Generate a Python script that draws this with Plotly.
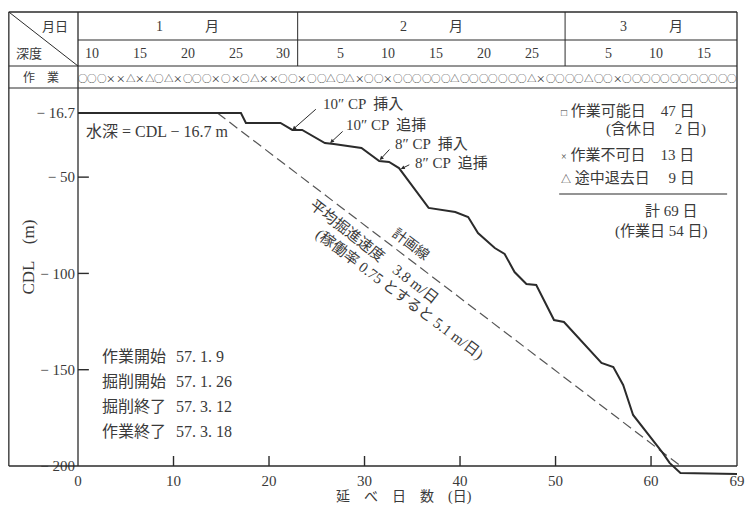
import plotly.graph_objects as go

# ---------------- data ----------------
elapsed_days = [0, 17.06, 17.58, 21.2, 22.44, 23.47, 25.85, 26.78, 29.68, 31.54, 32.57,
                33.61, 36.71, 38.26, 39.5, 40.85, 41.88, 43.64, 44.67, 45.71, 46.95,
                47.98, 49.84, 50.88, 54.81, 56.05, 57.08, 58.12, 60.19, 61.22, 61.94,
                63.08, 69]
depth_cdl = [-16.7, -16.7, -21.9, -21.9, -25.5, -25.5, -32.3, -32.8, -34.9, -41.6, -42.1,
             -45.3, -66.0, -67.1, -68.1, -70.7, -79.0, -86.8, -89.9, -99.3, -105.5,
             -106.0, -124.2, -125.2, -146.5, -148.6, -157.9, -173.5, -186.5, -193.2, -198.4,
             -203.6, -204.1]
plan_days = [14.6, 63.1]
plan_depth = [-16.7, -200.0]

x_tick_vals = [0, 10, 20, 30, 40, 50, 60, 69]
x_tick_text = ["0", "10", "20", "30", "40", "50", "60", "69"]
y_tick_vals = [-16.7, -50, -100, -150, -200]
y_tick_text = ["− 16.7", "− 50", "− 100", "− 150", "− 200"]

month_names = ["1　　　月", "2　　　月", "3　　　月"]
month_start_index = [0, 23, 51]
month_end_index = [23, 51, 69]
month_first_day = [9, 1, 1]
month_day_labels = [[10, 15, 20, 25, 30], [5, 10, 15, 20, 25], [5, 10, 15]]

work_status = list("○○○××△×△○△×○○○×○×○△××○○×○○△○△×○"
                   "○×○○○○○○△○○○○○○○△×○○○○△○○×○○○○○○○○○○○○")

cp_notes = ["10″ CP  挿入", "10″ CP  追挿", "8″ CP  挿入", "8″ CP  追挿"]
cp_days = [22.44, 26.4, 31.6, 33.8]
cp_depth = [-25.5, -32.3, -41.1, -45.8]

summary_symbols = ["□", "", "×", "△", "", ""]
summary_lines = [" 作業可能日　47 日", "(含休日　 2 日)", " 作業不可日　13 日",
                 " 途中退去日　 9 日", "計 69 日", "(作業日 54 日)"]
date_labels = ["作業開始", "掘削開始", "掘削終了", "作業終了"]
date_values = ["57. 1. 9", "57. 1. 26", "57. 3. 12", "57. 3. 18"]

# ---------------- layout helpers ----------------
W, H = 750, 511
L, R, T, B = 78, 5, 88, 31
PW, PH = W - L - R, H - T - B


def px(xp):
    return (xp - L) / PW


def py(yp):
    return (H - B - yp) / PH


SERIF = "Liberation Serif, Noto Sans CJK JP, serif"
TXT = "#3a3a3a"
LN = "#2b2b2b"

fig = go.Figure()
fig.add_trace(go.Scatter(x=plan_days, y=plan_depth, mode="lines",
                         line=dict(color="#555", width=1.2, dash="10px,5px"),
                         hoverinfo="skip", showlegend=False))
fig.add_trace(go.Scatter(x=elapsed_days, y=depth_cdl, mode="lines",
                         line=dict(color=LN, width=2),
                         hoverinfo="skip", showlegend=False))

shapes = []


def pline(x0, y0, x1, y1, w=1.3):
    shapes.append(dict(type="line", xref="paper", yref="paper",
                       x0=px(x0), y0=py(y0), x1=px(x1), y1=py(y1),
                       line=dict(color=LN, width=w)))


# frame
pline(8, 12, 745, 12)
pline(8, 12, 8, 466)
pline(745, 12, 745, 466)
pline(8, 466, 745, 466)
pline(78, 40, 745, 40, 1)
pline(8, 66, 745, 66, 1)
pline(8, 88, 745, 88, 1)
pline(78, 12, 78, 466)
pline(8, 12, 78, 66, 1)
for mi in range(1, len(month_start_index)):
    shapes.append(dict(type="line", xref="x", yref="paper",
                       x0=month_start_index[mi], x1=month_start_index[mi],
                       y0=py(12), y1=py(66), line=dict(color=LN, width=1)))

# tick marks (inside), placed on the axes' own scales
for v in x_tick_vals[1:-1]:
    shapes.append(dict(type="line", xref="x", yref="paper", x0=v, x1=v,
                       y0=py(466), y1=py(456), line=dict(color=LN, width=1.4)))
for v in y_tick_vals[1:-1]:
    shapes.append(dict(type="line", xref="paper", yref="y", x0=px(78), x1=px(89),
                       y0=v, y1=v, line=dict(color=LN, width=1.4)))

ann = []


def ptext(x, y, text, size=15, xanchor="center", **kw):
    ann.append(dict(xref="paper", yref="paper", x=px(x), y=py(y), text=text,
                    showarrow=False, xanchor=xanchor, yanchor="middle",
                    font=dict(family=SERIF, size=size, color=TXT), **kw))


# header left cells
ptext(70, 26, "月日", 13, xanchor="right")
ptext(13, 53, "深度", 13, xanchor="left")
ptext(41, 78, "作　業", 12)

# month names
for mi, name in enumerate(month_names):
    ann.append(dict(xref="x", yref="paper",
                    x=(month_start_index[mi] + month_end_index[mi]) / 2, y=py(26),
                    text=name, showarrow=False, yanchor="middle",
                    font=dict(family=SERIF, size=14, color=TXT)))
# day labels
for mi, days in enumerate(month_day_labels):
    for d in days:
        ann.append(dict(xref="x", yref="paper",
                        x=month_start_index[mi] + (d - month_first_day[mi]) + 0.5, y=py(53),
                        text=str(d), showarrow=False, yanchor="middle",
                        font=dict(family=SERIF, size=14, color=TXT)))
# work status row
for i, s in enumerate(work_status):
    ann.append(dict(xref="x", yref="paper", x=i + 0.5, y=py(78), text=s,
                    showarrow=False, yanchor="middle",
                    font=dict(family="Noto Sans CJK JP", size=9.5, color="#2e2e2e")))

# water depth note
ptext(84, 131, "水深 = CDL − 16.7 m", 16, xanchor="left")

# CP notes with arrows
cp_offsets = [(25, -22), (14, -13), (11, -12), (10, -5)]
cp_text_pos = [(324, 104), (347, 125), (397, 144), (417, 163)]
for n, d, z, (ax, ay), (tx, ty) in zip(cp_notes, cp_days, cp_depth, cp_offsets, cp_text_pos):
    ann.append(dict(xref="x", yref="y", x=d, y=z, ax=ax, ay=ay, text="",
                    showarrow=True, arrowhead=2, arrowsize=0.8, arrowwidth=1,
                    arrowcolor=LN))
    ptext(tx, ty, n, 15, xanchor="left")

# plan line labels
ptext(415, 244, "計画線", 14, textangle=37)
ptext(378, 252, "平均掘進速度　3.8 m/日", 15, textangle=38)
ptext(403, 294, "(稼働率 0.75 とすると 5.1 m/日)", 15, textangle=37)


def sym(s):
    return '<span style="font-size:10px">%s</span>' % s if s else ""


# summary block
ptext(565, 111, sym(summary_symbols[0]) + summary_lines[0], 15, xanchor="left")
ptext(716, 129, summary_lines[1], 15, xanchor="right")
ptext(565, 155, sym(summary_symbols[2]) + summary_lines[2], 15, xanchor="left")
ptext(565, 178, sym(summary_symbols[3]) + summary_lines[3], 15, xanchor="left")
pline(565, 194, 735, 194, 1.2)
ptext(708, 211, summary_lines[4], 15, xanchor="right")
ptext(718, 231, summary_lines[5], 15, xanchor="right")

# dates block
for k, (lab, val) in enumerate(zip(date_labels, date_values)):
    yy = 356 + k * 25.3
    ptext(100, yy, lab, 16, xanchor="left")
    ptext(175, yy, val, 16, xanchor="left")

# axis titles
ptext(27, 257, "CDL　(m)", 17, textangle=-90)
ptext(408, 497, "延　べ　日　数　(日)", 14)

fig.update_layout(
    width=W, height=H, margin=dict(l=L, r=R, t=T, b=B),
    paper_bgcolor="white", plot_bgcolor="white",
    shapes=shapes, annotations=ann, showlegend=False,
    xaxis=dict(range=[0, 69], tickvals=x_tick_vals, ticktext=x_tick_text,
               ticks="", showline=False, showgrid=False, zeroline=False,
               anchor="free", position=py(466), ticklabelstandoff=4,
               ticklabeloverflow="allow",
               tickfont=dict(family=SERIF, size=15, color=TXT)),
    yaxis=dict(range=[-207.27, -3.72], tickvals=y_tick_vals, ticktext=y_tick_text,
               ticks="", showline=False, showgrid=False, zeroline=False,
               ticklabelstandoff=2,
               tickfont=dict(family=SERIF, size=15, color=TXT)),
)

fig.write_html("out.html")
